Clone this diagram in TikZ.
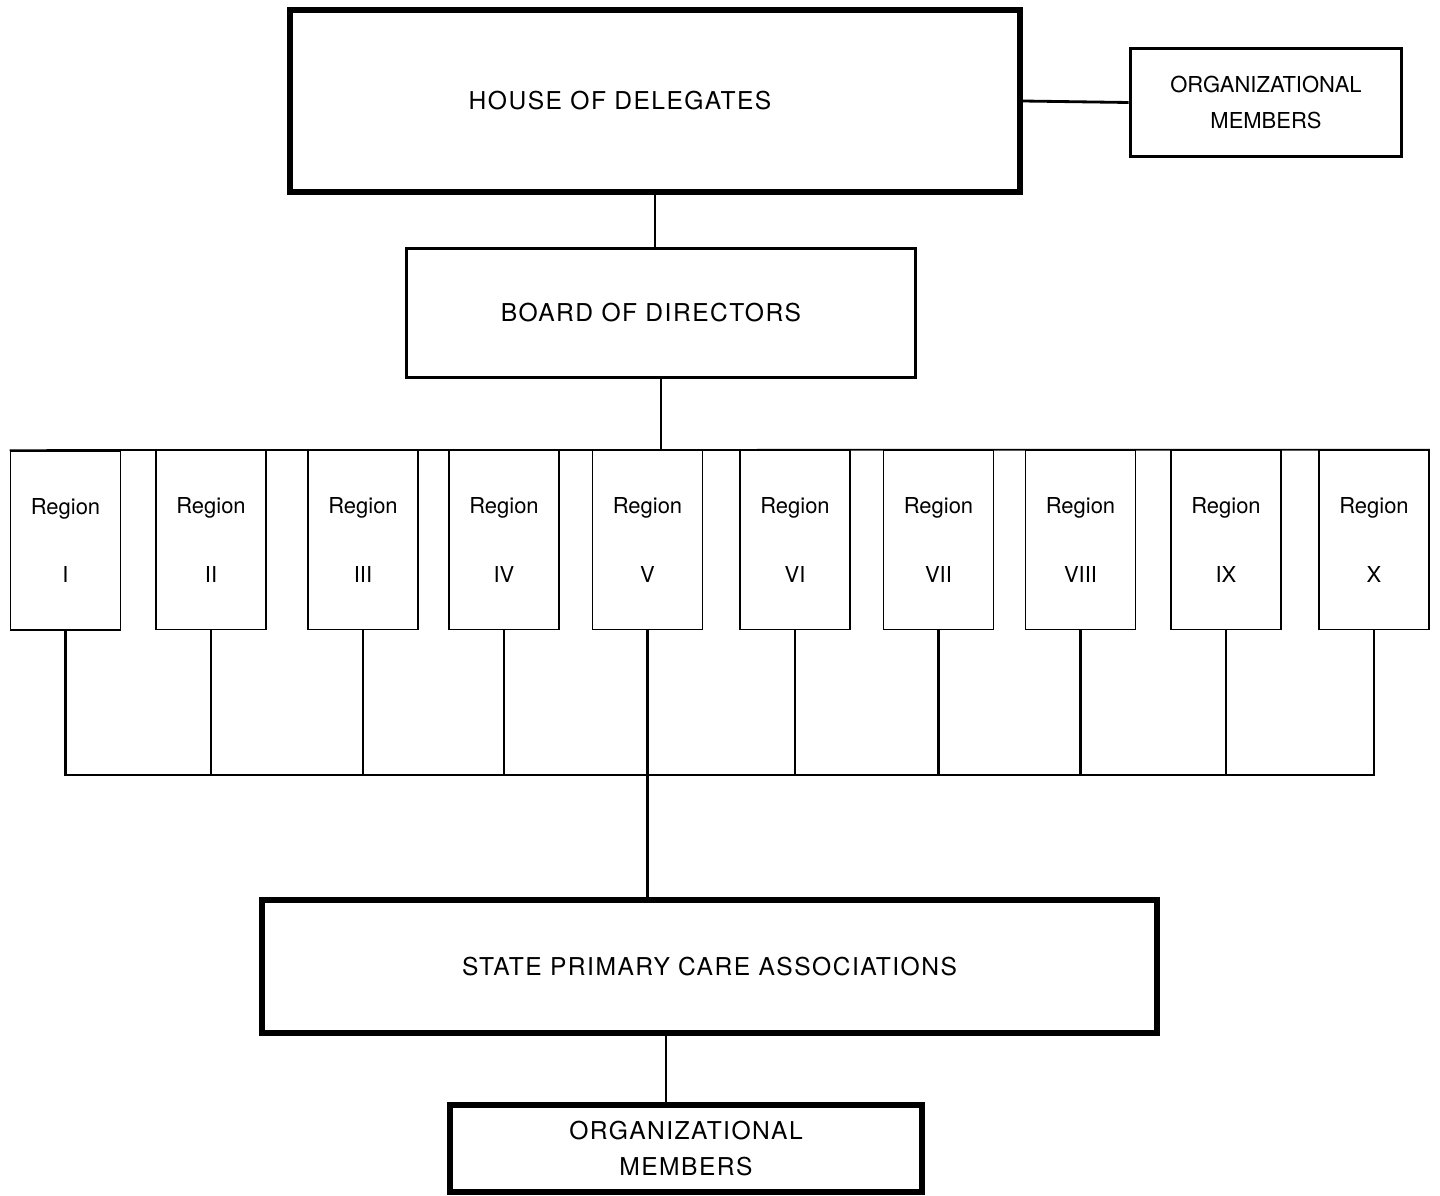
\documentclass[tikz,border=0pt]{standalone}
\usepackage{fontspec}
\setmainfont{TeX Gyre Heros}
\newfontfamily\capsfont[LetterSpace=6]{TeX Gyre Heros}
\usetikzlibrary{positioning,calc}

\begin{document}
\begin{tikzpicture}[
  x=0.02cm, y=-0.02cm,
  box/.style={rectangle, draw, align=center, inner sep=2pt},
  heavy/.style={box, line width=3pt, font=\capsfont\fontsize{14}{20}\selectfont},
  plain/.style={box, line width=1.7pt, font=\capsfont\fontsize{14}{20}\selectfont},
  region/.style={box, line width=1pt, minimum width=2.2cm, minimum height=3.58cm,
                 font=\fontsize{12.5}{15}\selectfont},
  conn/.style={line width=1.6pt},
]
\useasboundingbox (0,0) rectangle (1440,1196);

% === TOP OF THE ORGANIZATION ===
\node[heavy, minimum width=14.6cm, minimum height=3.64cm] (hod) at (655, 101) {\hspace*{-1.4cm}HOUSE OF DELEGATES};
\node[plain, minimum width=5.44cm, minimum height=2.18cm, font=\fontsize{12.5}{20}\selectfont] (om1) at (1266, 102.5) {ORGANIZATIONAL\\MEMBERS};
\node[plain, minimum width=10.2cm, minimum height=2.6cm] (bod) at (661, 313) {\hspace*{-0.4cm}BOARD OF DIRECTORS};

% === TEN REGIONS ===
\node[region] (r1) at (65.5, 540.5) {Region\\[8.5mm]I};
\node[region] (r2) at (211, 540) {Region\\[8.5mm]II};
\node[region] (r3) at (363, 540) {Region\\[8.5mm]III};
\node[region] (r4) at (504, 540) {Region\\[8.5mm]IV};
\node[region] (r5) at (647.5, 540) {Region\\[8.5mm]V};
\node[region] (r6) at (795, 540) {Region\\[8.5mm]VI};
\node[region] (r7) at (938.5, 540) {Region\\[8.5mm]VII};
\node[region] (r8) at (1080.5, 540) {Region\\[8.5mm]VIII};
\node[region] (r9) at (1226, 540) {Region\\[8.5mm]IX};
\node[region] (r10) at (1374, 540) {Region\\[8.5mm]X};

% === STATES AND MEMBERS ===
\node[heavy, minimum width=17.9cm, minimum height=2.66cm] (spca) at (709.5, 966.5) {STATE PRIMARY CARE ASSOCIATIONS};
\node[heavy, minimum width=9.44cm, minimum height=1.74cm] (om2) at (686, 1148.5) {ORGANIZATIONAL\\MEMBERS};

\coordinate (bus) at (0, 775);

\draw[conn] (hod.east) -- (om1.west);
\draw[conn] (hod.south) -- (hod.south |- bod.north);
\draw[conn] (bod.south) -- (bod.south |- r1.north);
\draw[line width=1pt] (r1.north west) -- (r10.north east);

\draw[conn] (r1.south) -- (r1.south |- bus) -- (r10.south |- bus) -- (r10.south);
\draw[conn] (r2.south) -- (r2.south |- bus);
\draw[conn] (r3.south) -- (r3.south |- bus);
\draw[conn] (r4.south) -- (r4.south |- bus);
\draw[conn] (r5.south) -- (r5.south |- spca.north);
\draw[conn] (r6.south) -- (r6.south |- bus);
\draw[conn] (r7.south) -- (r7.south |- bus);
\draw[conn] (r8.south) -- (r8.south |- bus);
\draw[conn] (r9.south) -- (r9.south |- bus);

\draw[conn] ([xshift=-0.4cm]om2.north) -- ([xshift=-0.4cm]om2.north |- spca.south);
\end{tikzpicture}
\end{document}
